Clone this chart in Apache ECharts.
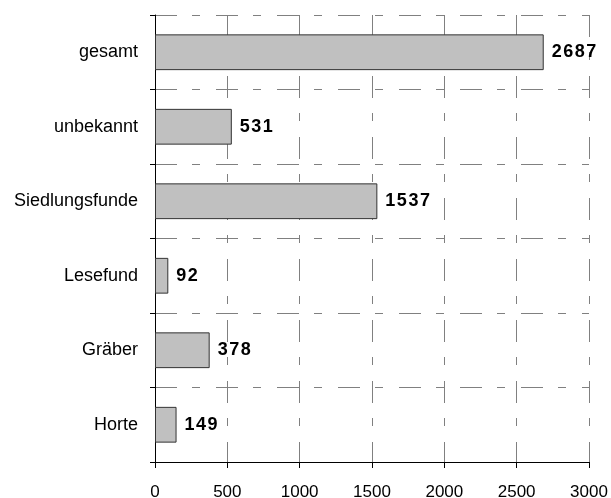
<!DOCTYPE html>
<html>
<head>
<meta charset="utf-8">
<script src="https://cdn.jsdelivr.net/npm/echarts@6/dist/echarts.min.js"></script>
<style>
  html, body { margin: 0; padding: 0; background: #fff; }
  #chart { width: 611px; height: 498px; }
</style>
</head>
<body>
<div id="chart"></div>
<script>
// Find categories, listed top to bottom
const categories = ['gesamt', 'unbekannt', 'Siedlungsfunde', 'Lesefund', 'Gräber', 'Horte'];
// Number of finds per category
const counts = [2687, 531, 1537, 92, 378, 149];
// Value axis range and step
const axisMin = 0;
const axisMax = 3000;
const axisStep = 500;

const FONT = '"Liberation Sans", Arial, sans-serif';
const gridDash = {
  color: '#808080',
  width: 1,
  type: [22, 15, 8, 16]
};

const chart = echarts.init(document.getElementById('chart'), null, { renderer: 'canvas' });

chart.setOption({
  animation: false,
  backgroundColor: '#ffffff',
  grid: { left: 155, right: 22, top: 15, bottom: 36, containLabel: false, outerBoundsMode: 'none' },
  xAxis: {
    type: 'value',
    min: axisMin,
    max: axisMax,
    interval: axisStep,
    axisLine: { show: true, lineStyle: { color: '#000', width: 1 } },
    axisTick: { show: true, length: 6, lineStyle: { color: '#000', width: 1 } },
    axisLabel: {
      color: '#000', fontFamily: FONT, fontSize: 17, margin: 22,
      formatter: (v) => String(v)
    },
    splitLine: { show: true, lineStyle: gridDash }
  },
  yAxis: {
    type: 'category',
    data: categories,
    inverse: true,
    axisLine: { show: true, lineStyle: { color: '#000', width: 1 } },
    axisTick: { show: true, length: 5, lineStyle: { color: '#000', width: 1 } },
    axisLabel: { color: '#000', fontFamily: FONT, fontSize: 18, margin: 17 },
    splitLine: { show: true, lineStyle: gridDash }
  },
  series: [{
    type: 'bar',
    data: counts,
    barWidth: '48%',
    itemStyle: { color: '#c0c0c0', borderColor: '#333333', borderWidth: 1 },
    label: {
      show: true,
      position: 'right',
      distance: 8,
      color: '#000',
      fontFamily: FONT,
      fontSize: 18,
      fontWeight: 'bold',
      // slightly tracked digits
      formatter: (p) => String(p.value).split('').join('\u200A')
    }
  }]
});
</script>
</body>
</html>
